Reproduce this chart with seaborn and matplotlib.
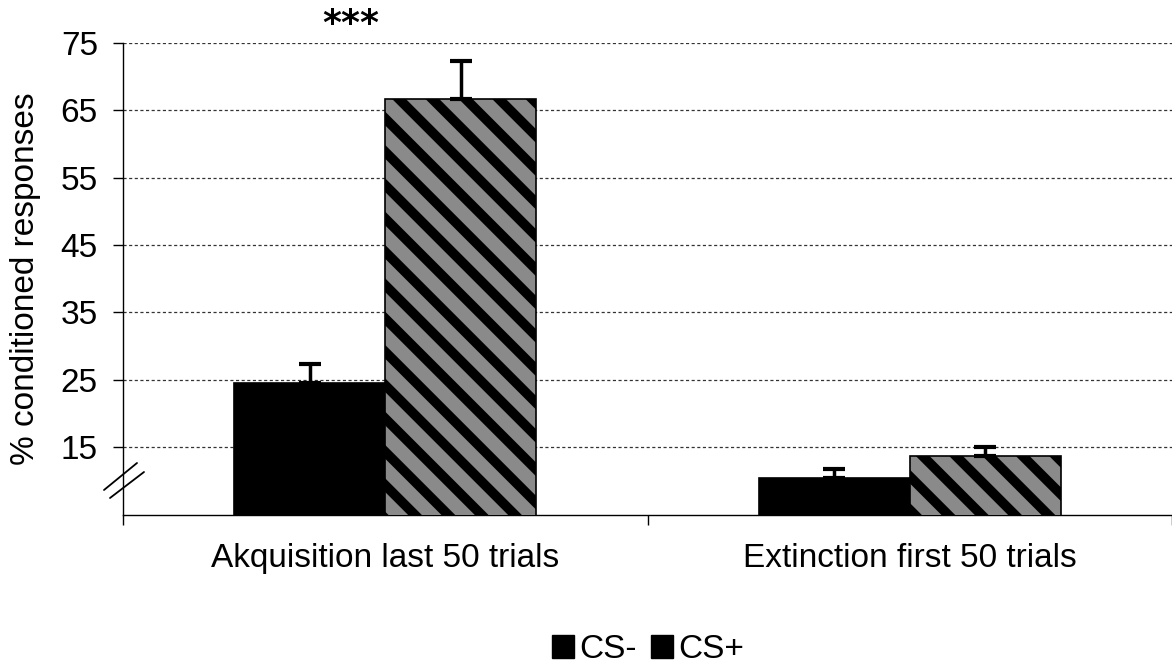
import matplotlib
matplotlib.use("Agg")
import matplotlib.pyplot as plt
import seaborn as sns
import pandas as pd
from matplotlib.patches import Patch
from matplotlib.lines import Line2D

categories = ["Akquisition last 50 trials", "Extinction first 50 trials"]
series = ["CS-", "CS+"]
cs_minus = [24.5, 10.4]
cs_plus = [66.7, 13.7]
err_minus = [2.9, 1.4]
err_plus = [5.6, 1.3]
yticks = [15, 25, 35, 45, 55, 65, 75]

sns.set_theme(style="white")
plt.rcParams['font.family'] = ['Liberation Sans', 'DejaVu Sans']
plt.rcParams['hatch.linewidth'] = 7
plt.rcParams['hatch.color'] = '#1a1a1a'
plt.rcParams['text.color'] = 'black'
plt.rcParams['xtick.color'] = 'black'
plt.rcParams['ytick.color'] = 'black'
plt.rcParams['axes.labelcolor'] = 'black'

df = pd.DataFrame({
    "cat": categories * 2,
    "series": [series[0]] * 2 + [series[1]] * 2,
    "val": cs_minus + cs_plus,
})
errs = {series[0]: err_minus, series[1]: err_plus}

fig = plt.figure(figsize=(11.72, 6.67), dpi=100)
ax = fig.add_axes([123/1172, 1-515/667, 1049/1172, (515-43)/667])

colors = {"CS-": "#000000", "CS+": "#8a8a8a"}
sns.barplot(data=df, x="cat", y="val", hue="series", hue_order=series,
            order=categories, palette=colors, width=0.576, gap=0,
            edgecolor="black", linewidth=1.2, ax=ax, legend=False, zorder=3)

patches = ax.patches
for i, p in enumerate(patches[:4]):
    s = series[i // 2]
    c = i % 2
    if s == "CS+":
        p.set_hatch("\\")
    cx = p.get_x() + p.get_width() / 2
    ax.errorbar(cx, p.get_height(), yerr=[[0], [errs[s][c]]], fmt="none",
                ecolor="black", elinewidth=2.5, capsize=8, capthick=3, zorder=4)

ax.set_ylim(4.9, 75)
ax.set_xlim(-0.5, 1.5)
ax.set_yticks(yticks)
ax.set_yticklabels([str(t) for t in yticks], fontsize=24)
for t in yticks:
    ax.axhline(t, color="#333333", lw=0.9, ls=(0, (2.5, 2)), zorder=1)

ax.set_xticks([-0.5, 0.5, 1.5], minor=False)
ax.set_xticklabels([])
ax.set_xticks([0, 1], minor=True)
ax.set_xticklabels(categories, minor=True, fontsize=24)
ax.tick_params(axis="x", which="minor", length=0, pad=20)
ax.tick_params(axis="x", which="major", length=7, direction="out", color="black", width=1, bottom=True)
ax.tick_params(axis="y", length=7, direction="out", color="black", width=1, left=True, pad=11)
ax.set_xlabel("")
ax.set_ylabel("% conditioned responses", fontsize=24, labelpad=14)

for side in ["top", "right"]:
    ax.spines[side].set_visible(False)
for side in ["left", "bottom"]:
    ax.spines[side].set_color("black")
    ax.spines[side].set_linewidth(1)

# axis break marks
fig.add_artist(Line2D([104/1172, 137/1172], [1-490/667, 1-463/667], color="black", lw=1.3))
fig.add_artist(Line2D([110/1172, 144/1172], [1-498/667, 1-472/667], color="black", lw=1.3))

ax.text(-0.065, 77.8, "***", ha="center", va="center", fontsize=26, fontweight="bold",
        family="DejaVu Sans", clip_on=False)

handles = [Patch(facecolor="black", edgecolor="black") for _ in series]
fig.legend(handles, series, loc="center", bbox_to_anchor=(0.553, 0.026), ncol=2,
           frameon=False, fontsize=24, handlelength=0.65, handleheight=0.65,
           handletextpad=0.15, columnspacing=0.45, borderpad=0)

fig.savefig("out.png", dpi=100)
